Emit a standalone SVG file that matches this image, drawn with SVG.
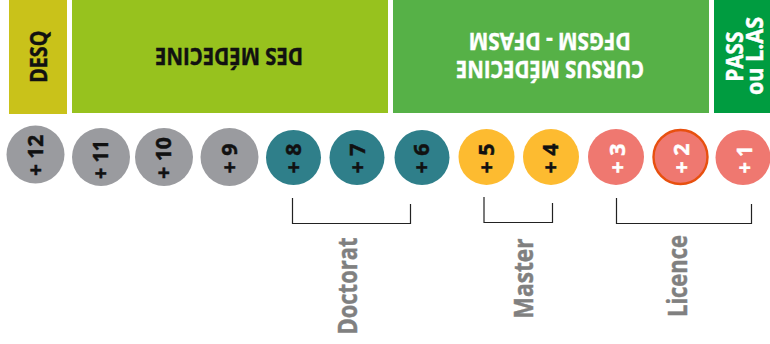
<svg xmlns="http://www.w3.org/2000/svg" width="770" height="344" viewBox="0 0 770 344">
<style>
text{font-family:"Open Sans","Liberation Sans",sans-serif;font-weight:700;stroke-width:.45}
.b{fill:#111;stroke:#111}.w{fill:#fff;stroke:#fff}
.c{font-size:21.5px}
.h{font-size:22.5px}
.l{font-size:26.5px;fill:#808080;stroke:#808080}
.k{fill:#9a9b9f}.t{fill:#2f7f8a}.a{fill:#fdbb30}.s{fill:#ef7870}
.br{fill:none;stroke:#222;stroke-width:1.2}
</style>
<rect width="770" height="344" fill="#fff"/>
<g id="desq"><rect x="9" y="0" width="58" height="114" fill="#c9c21a"/><text class="h b" transform="translate(46.5 82.7) rotate(-90)" textLength="52" lengthAdjust="spacingAndGlyphs">DESQ</text></g>
<g id="des"><rect x="72" y="0" width="316" height="113" fill="#97c21e"/><text class="h b" transform="translate(303 48) rotate(180)" textLength="148" lengthAdjust="spacingAndGlyphs">DES MÉDECINE</text></g>
<g id="cursus"><rect x="393" y="0" width="316" height="113" fill="#56b147"/><text class="h w" transform="translate(644 61) rotate(180)" textLength="188" lengthAdjust="spacingAndGlyphs">CURSUS MÉDECINE</text><text class="h w" transform="translate(630.7 33.3) rotate(180)" textLength="162" lengthAdjust="spacingAndGlyphs">DFGSM - DFASM</text></g>
<g id="pass"><rect x="714" y="0" width="56" height="113" fill="#009c40"/><text class="h w" transform="translate(743.3 81.7) rotate(-90)" textLength="50" lengthAdjust="spacingAndGlyphs">PASS</text><text class="h w" transform="translate(762.7 95) rotate(-90)" textLength="78" lengthAdjust="spacingAndGlyphs">ou L.AS</text></g>
<g id="y12"><circle class="k" cx="35.5" cy="154.5" r="29"/><text class="c b" transform="translate(42.8 176) rotate(-90)" textLength="41" lengthAdjust="spacingAndGlyphs">+ 12</text></g>
<g id="y11"><circle class="k" cx="101" cy="157" r="29"/><text class="c b" transform="translate(107.8 179) rotate(-90)" textLength="39" lengthAdjust="spacingAndGlyphs">+ 11</text></g>
<g id="y10"><circle class="k" cx="164" cy="157" r="29"/><text class="c b" transform="translate(170.5 179) rotate(-90)" textLength="42" lengthAdjust="spacingAndGlyphs">+ 10</text></g>
<g id="y9"><circle class="k" cx="229.5" cy="157" r="29"/><text class="c b" transform="translate(236.5 173.5) rotate(-90)" textLength="30" lengthAdjust="spacingAndGlyphs">+ 9</text></g>
<g id="y8"><circle class="t" cx="293.5" cy="157.5" r="27.5"/><text class="c b" transform="translate(300.5 173.5) rotate(-90)" textLength="30" lengthAdjust="spacingAndGlyphs">+ 8</text></g>
<g id="y7"><circle class="t" cx="357" cy="157.5" r="27.5"/><text class="c b" transform="translate(364.5 173.5) rotate(-90)" textLength="30" lengthAdjust="spacingAndGlyphs">+ 7</text></g>
<g id="y6"><circle class="t" cx="422" cy="157.5" r="27.5"/><text class="c b" transform="translate(428.8 173.5) rotate(-90)" textLength="30" lengthAdjust="spacingAndGlyphs">+ 6</text></g>
<g id="y5"><circle class="a" cx="486.5" cy="157" r="28"/><text class="c b" transform="translate(493.8 173.5) rotate(-90)" textLength="30" lengthAdjust="spacingAndGlyphs">+ 5</text></g>
<g id="y4"><circle class="a" cx="551" cy="157" r="28"/><text class="c b" transform="translate(558.2 173.5) rotate(-90)" textLength="30" lengthAdjust="spacingAndGlyphs">+ 4</text></g>
<g id="y3"><circle class="s" cx="616" cy="157" r="28"/><text class="c w" transform="translate(625 173.5) rotate(-90)" textLength="30" lengthAdjust="spacingAndGlyphs">+ 3</text></g>
<g id="y2"><circle class="s" cx="680.5" cy="157" r="27" stroke="#e8500f" stroke-width="2.4"/><text class="c w" transform="translate(689.3 173.5) rotate(-90)" textLength="30" lengthAdjust="spacingAndGlyphs">+ 2</text></g>
<g id="y1"><circle class="s" cx="743" cy="157.5" r="27.5"/><text class="c w" transform="translate(751.7 173.5) rotate(-90)" textLength="28" lengthAdjust="spacingAndGlyphs">+ 1</text></g>
<g id="connectors">
<path class="br" d="M292.5 198V223.5H410.5V204"/>
<path class="br" d="M484 197V222.5H552.5V203"/>
<path class="br" d="M616.5 198V223.5H751.5V204"/>
</g>
<g id="doctorat"><text class="l" transform="translate(357 334.5) rotate(-90)" textLength="97" lengthAdjust="spacingAndGlyphs">Doctorat</text></g>
<g id="master"><text class="l" transform="translate(532.5 318.5) rotate(-90)" textLength="80" lengthAdjust="spacingAndGlyphs">Master</text></g>
<g id="licence"><text class="l" transform="translate(686.5 317) rotate(-90)" textLength="82" lengthAdjust="spacingAndGlyphs">Licence</text></g>
</svg>
